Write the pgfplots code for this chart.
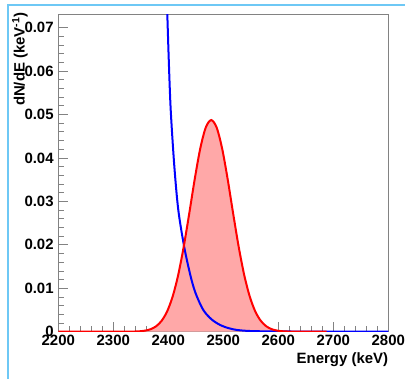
\documentclass[border=0pt]{standalone}
\usepackage{fontspec}
\setmainfont{Liberation Sans}
\usepackage{pgfplots}
\usepackage{pgfplotstable}
\pgfplotsset{compat=1.18}
\definecolor{rootred}{RGB}{255,0,0}
\definecolor{rootblue}{RGB}{0,0,255}
\definecolor{peakfill}{RGB}{255,168,168}
\definecolor{framegray}{RGB}{130,130,130}
\definecolor{skyline}{RGB}{110,200,245}

\pgfplotstableread{
E v
2200 0
2300 0
2330 0.00001
2338 0.00004
2348 0.0001
2358 0.00025
2368 0.00058
2378 0.00126
2388 0.00253
2398 0.0047
2408 0.00813
2418 0.01305
2428 0.01953
2438 0.02713
2448 0.03506
2458 0.04208
2468 0.04695
2478 0.0487
2488 0.04695
2498 0.04208
2508 0.03506
2518 0.02713
2528 0.01953
2538 0.01305
2548 0.00813
2558 0.0047
2568 0.00253
2578 0.00126
2588 0.00058
2598 0.00025
2608 0.0001
2618 0.00004
2640 0.00001
2688 0
}\peak

\pgfplotstableread{
E v
2397.2 0.078
2398.2 0.0731
2401 0.0620
2404.4 0.0510
2411 0.0380
2418.2 0.0280
2429.1 0.0194
2440.7 0.0127
2449.8 0.0088
2463.6 0.0050
2479 0.0028
2495 0.0015
2510 0.0008
2525 0.0004
2550 0.00015
2600 0.00006
2700 0.00002
2800 0
}\bkg

\begin{document}
\begin{tikzpicture}
\useasboundingbox (-58.3bp,-47.3bp) rectangle (346.7bp,331.7bp);
\fill[white] (-58.3bp,-47.3bp) rectangle (346.7bp,331.7bp);
\draw[skyline, line width=2.5bp] (-50.3bp,-47.3bp) -- (-50.3bp,326.7bp) -- (346.7bp,326.7bp);
\begin{axis}[
  at={(0,0)}, anchor=south west,
  scale only axis, width=330bp, height=317.7bp,
  xmin=2200, xmax=2800, ymin=0, ymax=0.0731,
  scaled x ticks=false, scaled y ticks=false,
  axis line style={framegray, line width=0.9bp},
  tick align=inside, tick pos=left,
  xtick={2200,2300,2400,2500,2600,2700,2800},
  ytick={0,0.01,0.02,0.03,0.04,0.05,0.06,0.07},
  yticklabels={0,0.01,0.02,0.03,0.04,0.05,0.06,0.07},
  minor x tick num=4, minor y tick num=4,
  tick style={framegray, line width=0.7bp},
  major tick length=10bp, minor tick length=5.5bp,
  /pgf/number format/1000 sep={},
  /pgf/number format/assume math mode=true,
  tick label style={font=\fontsize{15}{18}\selectfont\bfseries, inner sep=0pt},
  xticklabel style={yshift=-3bp},
  yticklabel style={xshift=-4.5bp},
  label style={font=\fontsize{15}{18}\selectfont\bfseries, inner sep=0pt},
  xlabel={Energy (keV)},
  xlabel style={at={(axis description cs:1,-0.064)}, anchor=north east},
  ylabel={dN/dE (keV\textsuperscript{-1})},
  ylabel style={at={(axis description cs:-0.116,1.006)}, anchor=east},
]
\addplot[draw=none, fill=peakfill, smooth] table[x=E,y=v]{\peak} \closedcycle;
\addplot[rootblue, line width=2bp, smooth] table[x=E,y=v]{\bkg};
\addplot[rootred, line width=2bp, smooth] table[x=E,y=v]{\peak};
\end{axis}
\end{tikzpicture}
\end{document}
